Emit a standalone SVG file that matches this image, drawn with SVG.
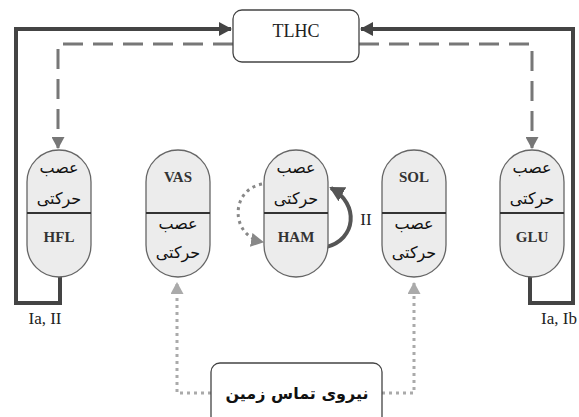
<svg xmlns="http://www.w3.org/2000/svg" width="579" height="417" viewBox="0 0 579 417">
<defs>
<marker id="solidHead" markerUnits="userSpaceOnUse" markerWidth="14" markerHeight="14" refX="12" refY="7" orient="auto">
<path d="M0,0 L13,7 L0,14 Z" fill="#444"/>
</marker>
<marker id="dashHead" markerUnits="userSpaceOnUse" markerWidth="13" markerHeight="13" refX="11" refY="6.5" orient="auto">
<path d="M0,0 L12,6.5 L0,13 Z" fill="#777"/>
</marker>
<marker id="dotHead" markerUnits="userSpaceOnUse" markerWidth="13" markerHeight="13" refX="11" refY="6.5" orient="auto">
<path d="M0,0 L12,6.5 L0,13 Z" fill="#aaa"/>
</marker>
<marker id="arcHead" markerUnits="userSpaceOnUse" markerWidth="16" markerHeight="16" refX="13" refY="8" orient="auto">
<path d="M0,0 L15,8 L0,16 Z" fill="#555"/>
</marker>
<marker id="dotArcHead" markerUnits="userSpaceOnUse" markerWidth="14" markerHeight="14" refX="12" refY="7" orient="auto">
<path d="M0,0 L13,7 L0,14 Z" fill="#888"/>
</marker>
</defs>
<style>
.cap{fill:#ececec;stroke:#666;stroke-width:1.3}
.div{stroke:#333;stroke-width:2}
.box{fill:#fff;stroke:#444;stroke-width:1.3}
.lat{font-family:"Liberation Serif",serif;fill:#222;text-anchor:middle}
.latb{font-family:"Liberation Serif",serif;font-weight:bold;font-size:15px;fill:#333;text-anchor:middle}
.fa{font-family:"DejaVu Sans","Noto Sans",sans-serif;font-size:16px;fill:#111;text-anchor:middle}
.solid{fill:none;stroke:#444;stroke-width:4}
.dash{fill:none;stroke:#777;stroke-width:3;stroke-dasharray:20 10}
.dot{fill:none;stroke:#aaa;stroke-width:3;stroke-dasharray:3 4}
</style>

<g id="connectors">
<path class="solid" d="M60,276 V303 H16 V29 H231" marker-end="url(#solidHead)"/>
<path class="solid" d="M530,276 V303 H573 V29 H361" marker-end="url(#solidHead)"/>
<path class="dash" d="M233,44 H58 V148" marker-end="url(#dashHead)"/>
<path class="dash" d="M359,44 H532 V148" marker-end="url(#dashHead)"/>
<path class="dot" d="M211,393 H177 V283" marker-end="url(#dotHead)"/>
<path class="dot" d="M382,393 H414 V283" marker-end="url(#dotHead)"/>
<path fill="none" stroke="#555" stroke-width="4" d="M326,247 C356,240 360,204 331,188" marker-end="url(#arcHead)"/>
<path fill="none" stroke="#888" stroke-width="3" stroke-dasharray="3 4" d="M262,184 C230,190 230,236 263,242" marker-end="url(#dotArcHead)"/>
<text class="lat" x="366" y="225" font-size="17">II</text>
<text class="lat" x="45" y="324" font-size="17">Ia, II</text>
<text class="lat" x="559" y="324" font-size="17">Ia, Ib</text>
</g>

<g id="TLHC">
<rect class="box" x="233" y="10" width="126" height="52" rx="9"/>
<text class="lat" x="296" y="37" font-size="18">TLHC</text>
</g>

<g id="ground">
<rect class="box" x="211" y="363" width="171" height="70" rx="9"/>
<text class="fa" x="297" y="399" font-size="16" font-weight="bold">نیروی تماس زمین</text>
</g>

<g id="HFL">
<rect class="cap" x="27" y="150" width="64" height="127" rx="32"/>
<line class="div" x1="27" y1="213" x2="91" y2="213"/>
<text class="fa" x="59" y="173">عصب</text>
<text class="fa" x="59" y="204">حرکتی</text>
<text class="latb" x="59" y="242">HFL</text>
</g>

<g id="VAS">
<rect class="cap" x="146" y="150" width="64" height="127" rx="32"/>
<line class="div" x1="146" y1="213" x2="210" y2="213"/>
<text class="latb" x="178" y="182">VAS</text>
<text class="fa" x="178" y="229">عصب</text>
<text class="fa" x="178" y="258">حرکتی</text>
</g>

<g id="HAM">
<rect class="cap" x="264" y="150" width="64" height="127" rx="32"/>
<line class="div" x1="264" y1="213" x2="328" y2="213"/>
<text class="fa" x="296" y="173">عصب</text>
<text class="fa" x="296" y="204">حرکتی</text>
<text class="latb" x="296" y="242">HAM</text>
</g>

<g id="SOL">
<rect class="cap" x="382" y="150" width="64" height="127" rx="32"/>
<line class="div" x1="382" y1="213" x2="446" y2="213"/>
<text class="latb" x="414" y="182">SOL</text>
<text class="fa" x="414" y="229">عصب</text>
<text class="fa" x="414" y="258">حرکتی</text>
</g>

<g id="GLU">
<rect class="cap" x="500" y="150" width="64" height="127" rx="32"/>
<line class="div" x1="500" y1="213" x2="564" y2="213"/>
<text class="fa" x="532" y="173">عصب</text>
<text class="fa" x="532" y="204">حرکتی</text>
<text class="latb" x="532" y="242">GLU</text>
</g>
</svg>
